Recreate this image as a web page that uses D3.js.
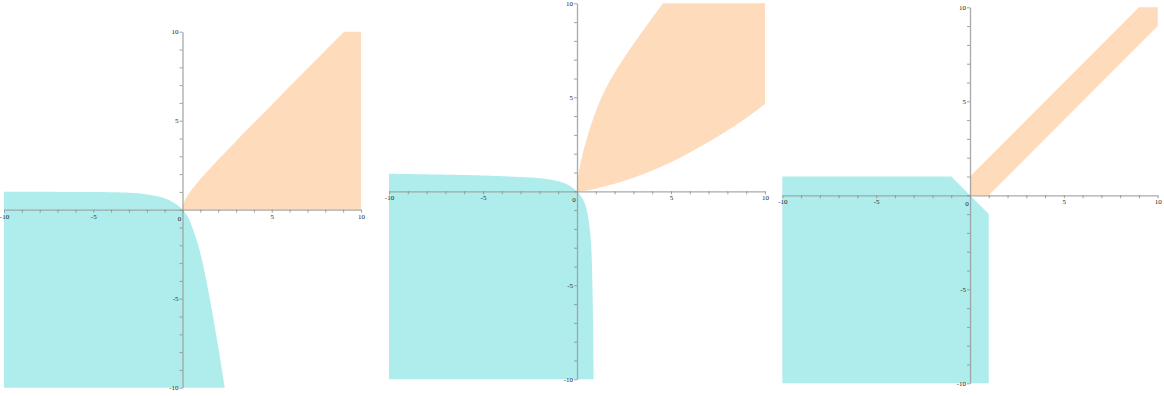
<!DOCTYPE html>
<html>
<head>
<meta charset="utf-8">
<script src="https://cdn.jsdelivr.net/npm/d3@7"></script>
<style>
  html, body { margin: 0; padding: 0; background: #fff; }
  svg { display: block; }
  .tick text { font-family: "Liberation Serif", "DejaVu Serif", serif; font-size: 7px; fill: #222; }
</style>
</head>
<body>
<svg id="chart" width="1164" height="396"></svg>
<script>
// ---------- data ----------
const domain = [-10, 10];
const xTickLabels = [-10, -5, 0, 5, 10];
const yTickLabels = [-10, -5, 5, 10];

// Panel 1: boundary curves [x, y]
const p1CyanCurve = [[-10, 1.01], [-5, 0.99], [-3, 0.95], [-2, 0.86], [-1, 0.65], [-0.5, 0.4], [0, 0],
                     [0.3, -0.4], [0.55, -1], [0.88, -2], [1.13, -3], [1.34, -4], [1.53, -5], [1.71, -6],
                     [1.88, -7], [2.05, -8], [2.21, -9], [2.37, -10]];
const p1CyanCorners = [[-10, -10]];
const p1OrangeCurve = [[0, 0], [0.03, 0.25], [0.12, 0.5], [0.42, 1], [0.82, 1.5], [1.26, 2], [2.18, 3],
                       [3.14, 4], [4.12, 5], [5.1, 6], [6.08, 7], [7.07, 8], [8.06, 9], [9.05, 10]];
const p1OrangeCorners = [[10, 10], [10, 0]];

// Panel 2
const p2CyanCurve = [[-10, 0.93], [-5, 0.84], [-3, 0.76], [-2, 0.69], [-1, 0.53], [-0.5, 0.35], [0, 0],
                     [0.35, -0.5], [0.52, -1], [0.68, -2], [0.76, -3], [0.82, -5], [0.86, -7.5], [0.89, -10]];
const p2CyanCorners = [[-10, -10]];
const p2OrangeUpper = [[0, 0], [0.02, 0.5], [0.09, 1], [0.3, 2], [0.58, 3], [0.91, 4], [1.31, 5], [1.82, 6],
                       [2.44, 7], [3.12, 8], [3.84, 9], [4.59, 10]];
const p2OrangeCorners = [[10, 10]];
const p2OrangeLower = [[10, 4.65], [9, 3.9], [8, 3.23], [7, 2.62], [6, 2.06], [5, 1.55], [4, 1.1],
                       [3, 0.72], [2, 0.4], [1, 0.14], [0.5, 0.04], [0, 0]];

// Panel 3 (polygons)
const p3Cyan = [[-10, 1], [-1, 1], [1, -1], [1, -10], [-10, -10]];
const p3Orange = [[0, 0], [0, 1], [9, 10], [10, 10], [10, 9], [1, 0]];

// ---------- layout ----------
const panels = [
  { x: [4, 361], y: [387.7, 31.7] },
  { x: [389, 765], y: [379.3, 3.3] },
  { x: [782.3, 1157.7], y: [383.3, 7.3] }
];
const cyan = "#afeded";
const orange = "#fddbbb";

const svg = d3.select("#chart");

function makePanel(p, drawFn) {
  const x = d3.scaleLinear().domain(domain).range(p.x);
  const y = d3.scaleLinear().domain(domain).range(p.y);
  const g = svg.append("g");
  drawFn(g, x, y);
  const xAxis = d3.axisBottom(x).ticks(20).tickSizeInner(3).tickSizeOuter(0)
    .tickFormat(d => (xTickLabels.includes(d) && d !== 0) ? String(d) : "");
  const yAxis = d3.axisLeft(y).ticks(20).tickSizeInner(3).tickSizeOuter(0)
    .tickFormat(d => yTickLabels.includes(d) ? String(d) : "");
  const gx = g.append("g").attr("transform", `translate(0,${y(0)})`).call(xAxis);
  const gy = g.append("g").attr("transform", `translate(${x(0)},0)`).call(yAxis);
  [gx, gy].forEach(a => {
    a.select(".domain").attr("stroke", "#9a9a9a").attr("stroke-width", 1.3).attr("stroke-opacity", 0.85);
    a.selectAll(".tick line").attr("stroke", "#8a8a8a").attr("stroke-width", 0.8);
  });
  gx.selectAll(".tick text").attr("dy", "0.6em").attr("y", 5);
  gy.selectAll(".tick text").attr("x", -4);
  g.append("text")
    .attr("x", x(0) - 3).attr("y", y(0) + 11)
    .attr("text-anchor", "middle")
    .style("font-family", '"Liberation Serif", serif').style("font-size", "7px").style("fill", "#222")
    .text(String(xTickLabels.find(d => d === 0)));
}

function curvePath(x, y, pts) {
  return d3.line().x(d => x(d[0])).y(d => y(d[1])).curve(d3.curveCatmullRom.alpha(0.5))(pts);
}
function corners(x, y, pts) {
  return pts.map(p => `L${x(p[0])},${y(p[1])}`).join("");
}
function polyPath(x, y, pts) {
  return d3.line().x(d => x(d[0])).y(d => y(d[1]))(pts) + "Z";
}

// Panel 1
makePanel(panels[0], (g, x, y) => {
  g.append("path").attr("fill", cyan)
    .attr("d", curvePath(x, y, p1CyanCurve) + corners(x, y, p1CyanCorners) + "Z");
  g.append("path").attr("fill", orange)
    .attr("d", curvePath(x, y, p1OrangeCurve) + corners(x, y, p1OrangeCorners) + "Z");
});

// Panel 2
makePanel(panels[1], (g, x, y) => {
  g.append("path").attr("fill", cyan)
    .attr("d", curvePath(x, y, p2CyanCurve) + corners(x, y, p2CyanCorners) + "Z");
  g.append("path").attr("fill", orange)
    .attr("d", curvePath(x, y, p2OrangeUpper) + corners(x, y, p2OrangeCorners)
      + curvePath(x, y, p2OrangeLower).replace(/^M/, "L") + "Z");
});

// Panel 3
makePanel(panels[2], (g, x, y) => {
  g.append("path").attr("d", polyPath(x, y, p3Cyan)).attr("fill", cyan);
  g.append("path").attr("d", polyPath(x, y, p3Orange)).attr("fill", orange);
});
</script>
</body>
</html>
